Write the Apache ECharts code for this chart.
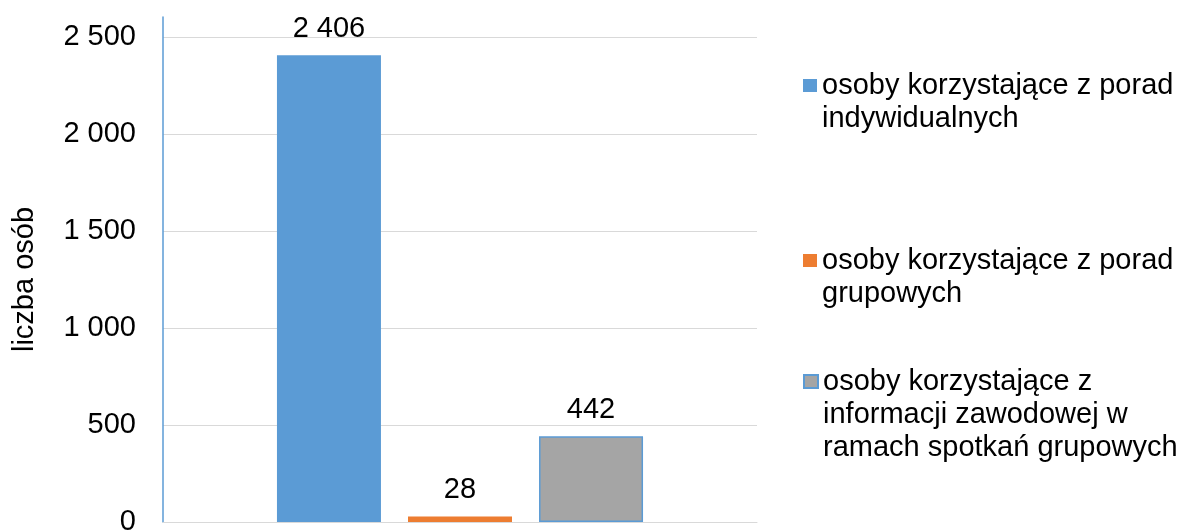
<!DOCTYPE html>
<html><head><meta charset="utf-8">
<script src="https://cdn.jsdelivr.net/npm/echarts@6/dist/echarts.min.js"></script>
<style>html,body{margin:0;padding:0;background:#fff}#c{width:1185px;height:531px}</style>
</head><body><div id="c"></div>
<script>
const categories = [''];
const seriesNames = [
  'osoby korzystające z porad indywidualnych',
  'osoby korzystające z porad grupowych',
  'osoby korzystające z informacji zawodowej w ramach spotkań grupowych'
];
const legendLines = [
  ['osoby korzystające z porad', 'indywidualnych'],
  ['osoby korzystające z porad', 'grupowych'],
  ['osoby korzystające z', 'informacji zawodowej w', 'ramach spotkań grupowych']
];
const seriesValues = [[2406], [28], [442]];
const colors = ['#5B9BD5', '#ED7D31', '#A5A5A5'];
const yAxisName = 'liczba osób';
const yMin = 0, yMax = 2500, yInterval = 500;

const fmt = v => String(v).replace(/\B(?=(\d{3})+(?!\d))/g, ' ');
const FONT = '"Liberation Sans", Arial, sans-serif';
const FS = 29;
const LH = 33;
const legendTops = [36, 211, 299];

const chart = echarts.init(document.getElementById('c'));
chart.setOption({
  animation: false,
  grid: [
    {left: 163, right: 428, top: 37, bottom: 9, outerBoundsMode: 'none', containLabel: false},
    {left: 163, right: 428, top: 17, bottom: 9, outerBoundsMode: 'none', containLabel: false}
  ],
  xAxis: [
    {type: 'category', data: categories, gridIndex: 0,
     axisLine: {lineStyle: {color: '#D9D9D9', width: 1}}, axisTick: {show: false}, axisLabel: {show: false}},
    {type: 'category', data: categories, gridIndex: 1, show: false}
  ],
  yAxis: [
    {type: 'value', gridIndex: 0, min: yMin, max: yMax, interval: yInterval,
     name: yAxisName, nameLocation: 'middle', nameGap: 124, nameRotate: 90,
     nameTextStyle: {fontFamily: FONT, fontSize: FS, color: '#000'},
     axisLine: {show: false}, axisTick: {show: false},
     axisLabel: {formatter: fmt, fontFamily: FONT, fontSize: FS, color: '#000', margin: 27},
     splitLine: {lineStyle: {color: '#D9D9D9', width: 1}}},
    {type: 'value', gridIndex: 1, min: 0, max: 1,
     axisLine: {show: true, lineStyle: {color: '#5B9BD5', width: 1.5}},
     axisTick: {show: false}, axisLabel: {show: false}, splitLine: {show: false}}
  ],
  legend: seriesNames.map((n, i) => ({
    data: [n], orient: 'vertical', left: 803, top: legendTops[i], padding: 0,
    icon: 'rect', itemWidth: 14, itemHeight: 13, selectedMode: false,
    formatter: () => '\n'.repeat(legendLines[i].length - 1) + legendLines[i].join('\n'),
    textStyle: {fontFamily: FONT, fontSize: FS, color: '#000', lineHeight: LH}
  })),
  series: seriesNames.map((n, i) => ({
    name: n, type: 'bar', data: seriesValues[i], xAxisIndex: 0, yAxisIndex: 0,
    barWidth: 104, barGap: '26%',
    itemStyle: i === 2 ? {color: colors[i], borderColor: '#5B9BD5', borderWidth: 1.5} : {color: colors[i]},
    label: {show: true, position: 'top', distance: 12, formatter: p => fmt(p.value),
            fontFamily: FONT, fontSize: FS, color: '#000'}
  }))
});
</script></body></html>
